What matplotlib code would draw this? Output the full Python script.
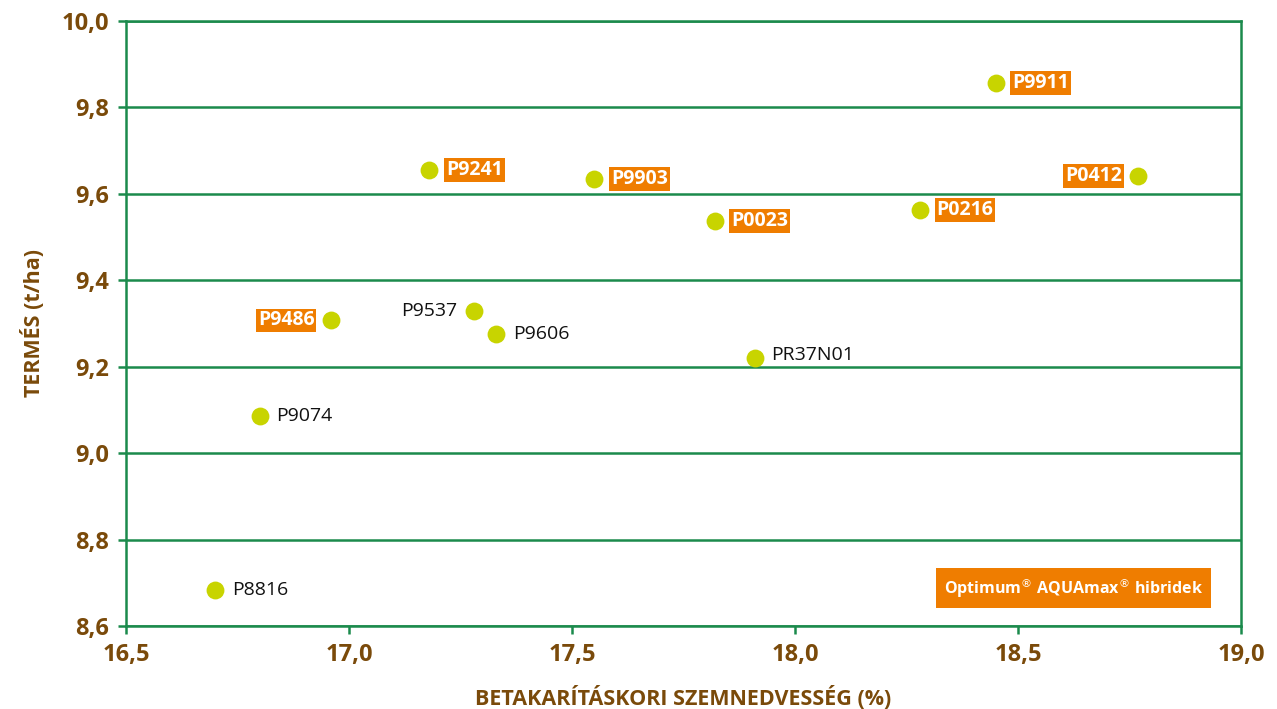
import matplotlib
matplotlib.use("Agg")
import matplotlib.pyplot as plt

plt.rcParams['font.family'] = ['Open Sans', 'DejaVu Sans']

# hybrid data: moisture at harvest (%) vs yield (t/ha)
names = ['P9911', 'P9241', 'P9903', 'P0412', 'P0216', 'P0023', 'P9537',
         'P9486', 'P9606', 'PR37N01', 'P9074', 'P8816']
moisture = [18.45, 17.18, 17.55, 18.77, 18.28, 17.82, 17.28,
            16.96, 17.33, 17.91, 16.80, 16.70]
yields = [9.857, 9.655, 9.634, 9.641, 9.562, 9.537, 9.330,
          9.307, 9.275, 9.221, 9.085, 8.683]
aquamax = [True, True, True, True, True, True, False,
           True, False, False, False, False]
left_side = ['P9486', 'P9537', 'P0412']

xticks = [16.5, 17.0, 17.5, 18.0, 18.5, 19.0]
yticks = [8.6, 8.8, 9.0, 9.2, 9.4, 9.6, 9.8, 10.0]

brown = '#7a4a0a'
green = '#1b8a4c'
dot = '#c8d400'
orange = '#ef7d00'

fig = plt.figure(figsize=(12.77, 7.09), dpi=100)
ax = fig.add_axes([0.0987, 0.1171, 0.8731, 0.8533])

ax.scatter(moisture, yields, s=165, color=dot, zorder=3, linewidths=0)

for n, x, y, a in zip(names, moisture, yields, aquamax):
    if n in left_side:
        off, ha = (-12, 0), 'right'
    else:
        off, ha = (12, 0), 'left'
    if n == 'PR37N01':
        off = (12, 2)
    if a:
        ax.annotate(n, (x, y), xytext=off, textcoords='offset points',
                    ha=ha, va='center', fontsize=14, fontweight='bold',
                    color='white', zorder=4,
                    bbox=dict(boxstyle='square,pad=0.1', fc=orange, ec='none'))
    else:
        ax.annotate(n, (x, y), xytext=off, textcoords='offset points',
                    ha=ha, va='center', fontsize=14, color='#111111', zorder=4)

ax.set_xlim(16.5, 19.0)
ax.set_ylim(8.6, 10.0)
ax.set_xticks(xticks)
ax.set_yticks(yticks)
ax.set_xticklabels([f'{v:.1f}'.replace('.', ',') for v in xticks])
ax.set_yticklabels([f'{v:.1f}'.replace('.', ',') for v in yticks])
ax.tick_params(colors=green, width=1.8, length=6, direction='out', pad=6)
for lab in ax.get_xticklabels() + ax.get_yticklabels():
    lab.set_color(brown)
    lab.set_fontweight('bold')
    lab.set_fontsize(17)

ax.grid(axis='y', color=green, linewidth=1.8)
ax.set_axisbelow(True)
for sp in ax.spines.values():
    sp.set_color(green)
    sp.set_linewidth(1.8)

ax.set_xlabel('BETAKARÍTÁSKORI SZEMNEDVESSÉG (%)', color=brown,
              fontweight='bold', fontsize=15.5, labelpad=14)
ax.set_ylabel('TERMÉS (t/ha)', color=brown, fontweight='bold',
              fontsize=15.5, labelpad=12)

ax.text(0.966, 0.063, 'Optimum$^{\u00ae}$ AQUAmax$^{\u00ae}$ hibridek',
        transform=ax.transAxes, ha='right', va='center', fontsize=11.5,
        fontweight='bold', color='white',
        bbox=dict(boxstyle='square,pad=0.5', fc=orange, ec='none'))

fig.savefig('out.png', dpi=100)
